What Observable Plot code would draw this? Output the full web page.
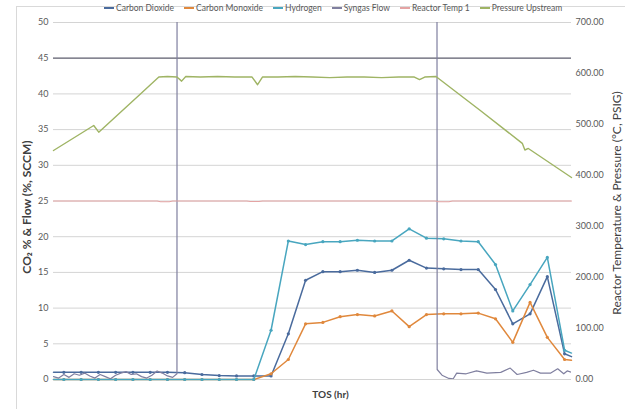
<!DOCTYPE html>
<html><head><meta charset="utf-8">
<script src="https://cdn.jsdelivr.net/npm/d3@7"></script>
<script src="https://cdn.jsdelivr.net/npm/@observablehq/plot@0.6"></script>
<style>
body{margin:0;background:#fff;font-family:Lato,"Liberation Sans",sans-serif;}
#wrap{position:relative;width:625px;height:409px;overflow:hidden;}
#border{position:absolute;left:16px;top:6px;width:700px;height:500px;border:1px solid #d9d9d9;box-sizing:border-box;}
#legend{position:relative;height:16px;display:flex;align-items:center;gap:10px;padding-left:104px;font-size:8.5px;color:#595959;white-space:nowrap;}
#legend .it{display:flex;align-items:center;gap:2px;}
#legend .sw{display:inline-block;width:10px;height:1.5px;}
#chart{position:relative;}
</style></head>
<body><div id="wrap"><div id="border"></div><div id="legend"></div><div id="chart"></div></div>
<script>
// ---- data ----
const seriesNames = ["Carbon Dioxide","Carbon Monoxide","Hydrogen","Syngas Flow","Reactor Temp 1","Pressure Upstream"];
const seriesColors = ["#4a6b9d","#e0883c","#48a6bf","#7f7f9f","#e4a3a3","#9fb464"];

// TOS (hr) of gas composition samples
const tos = [0, 0.6, 1.6, 2.6, 3.6, 4.6, 5.6, 6.6, 7.6, 8.6, 9.6, 10.6, 11.6, 12.6, 13.6, 14.6, 15.6, 16.6, 17.6, 18.6, 19.6, 20.6, 21.6, 22.6, 23.6, 24.6, 25.6, 26.6, 27.6, 28.6, 29.6, 30];
const co2 = [1.0, 1.0, 1.0, 1.0, 1.0, 1.0, 1.0, 1.0, 0.95, 0.7, 0.55, 0.5, 0.5, 0.5, 6.4, 13.9, 15.1, 15.1, 15.3, 15.0, 15.3, 16.7, 15.6, 15.5, 15.4, 15.4, 12.6, 7.8, 9.2, 14.4, 3.6, 3.2];
const co  = [0, 0, 0, 0, 0, 0, 0, 0, 0, 0, 0, 0, 0, 0.8, 2.8, 7.8, 8.0, 8.8, 9.1, 8.9, 9.6, 7.4, 9.1, 9.2, 9.2, 9.3, 8.5, 5.2, 10.8, 5.9, 2.8, 2.7];
const h2  = [0, 0, 0, 0, 0, 0, 0, 0, 0, 0, 0, 0, 0, 6.9, 19.4, 18.9, 19.3, 19.3, 19.5, 19.4, 19.4, 21.1, 19.8, 19.7, 19.4, 19.3, 16.1, 9.6, 13.3, 17.1, 4.1, 3.7];

// Syngas flow (SCCM), left axis; high values run off the chart
const flowT = [0, 0.3, 0.6, 0.9, 1.2, 1.5, 1.8, 2.1, 2.4, 2.7, 3.0, 3.3, 3.6, 3.9, 4.2, 4.5, 4.8, 5.1, 5.4, 5.7, 6.0, 6.3, 6.6, 6.9, 7.15, 7.16, 22.2, 22.22, 22.5, 22.9, 23.15, 23.35, 23.9, 24.5, 25.1, 25.9, 26.45, 26.85, 27.4, 27.8, 28.2, 28.8, 29.2, 29.55, 29.75, 30];
const flowV = [0.4, 0.2, 0.7, 0.3, 0.8, 0.6, 0.9, 0.5, 0.2, 0.7, 0.4, 0.1, 0.6, 0.9, 1.1, 0.7, 0.8, 0.4, 0.2, 0.6, 1.2, 0.9, 0.5, 0.3, 0.8, 100, 100, 1.4, 0.6, 0.15, 0.1, 0.9, 0.8, 1.2, 0.9, 1.0, 1.6, 0.7, 1.0, 1.3, 0.9, 0.9, 1.5, 0.8, 1.2, 1.0];

// Reactor temperature (°C), right axis
const tempT = [0, 6.0, 6.2, 6.7, 6.9, 11.2, 11.4, 11.9, 12.1, 22.1, 22.3, 22.9, 23.1, 30];
const tempV = [350, 350, 348.5, 348.5, 350, 350, 349, 349, 350, 350, 348.5, 348.5, 350, 350];

// Pressure upstream (PSIG), right axis
const presT = [0, 2.33, 2.62, 4.94, 6.1, 6.6, 7.15, 7.42, 7.66, 8.5, 9.5, 10.5, 11.5, 11.82, 12.1, 13, 14, 15, 16, 17, 18, 19, 20, 20.9, 21.2, 21.5, 22.15, 24.7, 27.15, 27.3, 27.5, 30];
const presV = [449, 498, 485, 557, 593, 594, 593, 585, 594, 593, 594, 593, 593, 578, 593, 593, 594, 593, 592, 593, 593, 592, 593, 593, 588, 593, 594, 528, 463, 450, 453, 396];

const leftTicks = [0, 5, 10, 15, 20, 25, 30, 35, 40, 45, 50];
const rightTicks = [0, 100, 200, 300, 400, 500, 600, 700];
const leftMax = 50, rightMax = 700;

// ---- build ----
const toLeft = v => v * leftMax / rightMax;
const gas = tos.map((t, i) => ({t, co2: co2[i], co: co[i], h2: h2[i], mark: i > 0 && i < tos.length - 1}));
const gasMarked = gas.filter(d => d.mark);
const flow = flowT.map((t, i) => ({t, v: flowV[i]}));
const temp = tempT.map((t, i) => ({t, v: toLeft(tempV[i])}));
const pres = presT.map((t, i) => ({t, v: toLeft(presV[i])}));

const leg = document.getElementById("legend");
seriesNames.forEach((n, i) => {
  const it = document.createElement("span"); it.className = "it";
  const sw = document.createElement("span"); sw.className = "sw"; sw.style.background = seriesColors[i];
  const tx = document.createElement("span"); tx.textContent = n;
  it.append(sw, tx); leg.append(it);
});

const C = seriesColors;
const chart = Plot.plot({
  width: 625, height: 393,
  marginTop: 6, marginBottom: 30, marginLeft: 53, marginRight: 54,
  x: {domain: [0, 30], axis: null},
  y: {domain: [0, leftMax]},
  style: {fontFamily: "Lato, 'Liberation Sans', sans-serif", fontSize: "9px", color: "#595959", background: "transparent", overflow: "visible"},
  marks: [
    Plot.ruleY(leftTicks, {stroke: d => d === 45 ? "#5c5c6c" : "#d4d4d4", strokeWidth: d => d === 45 ? 1.2 : 1}),
    Plot.axisY(leftTicks, {anchor: "left", tickSize: 0, tickPadding: 5, label: null}),
    Plot.axisY(rightTicks.map(toLeft), {anchor: "right", tickSize: 0, tickPadding: 4, label: null, tickFormat: d => (d * rightMax / leftMax).toFixed(2)}),
    Plot.text(["CO\u2082 % & Flow (%, SCCM)"], {frameAnchor: "left", textAnchor: "middle", rotate: -90, dx: -26, dy: 6, fontSize: 12, fontWeight: "bold", fill: "#404040"}),
    Plot.text(["Reactor Temperature & Pressure (\u00b0C, PSIG)"], {frameAnchor: "right", textAnchor: "middle", rotate: -90, dx: 46, dy: 2, fontSize: 12, fill: "#404040"}),
    Plot.text(["TOS (hr)"], {frameAnchor: "bottom", dy: 18, dx: 18, fontSize: 10, fontWeight: "bold", fill: "#404040"}),
    Plot.lineY(gas, {x: "t", y: "co2", stroke: C[0], strokeWidth: 1.5}),
    Plot.dot(gasMarked, {x: "t", y: "co2", fill: C[0], r: 1.6}),
    Plot.lineY(gas, {x: "t", y: "co", stroke: C[1], strokeWidth: 1.5}),
    Plot.dot(gasMarked, {x: "t", y: "co", fill: C[1], r: 1.6}),
    Plot.lineY(gas, {x: "t", y: "h2", stroke: C[2], strokeWidth: 1.5}),
    Plot.dot(gasMarked, {x: "t", y: "h2", fill: C[2], r: 1.6}),
    Plot.lineY(flow, {x: "t", y: "v", stroke: C[3], strokeWidth: 1.2, clip: true}),
    Plot.lineY(temp, {x: "t", y: "v", stroke: C[4], strokeWidth: 1.2}),
    Plot.lineY(pres, {x: "t", y: "v", stroke: C[5], strokeWidth: 1.4})
  ]
});
document.getElementById("chart").append(chart);
</script></body></html>
